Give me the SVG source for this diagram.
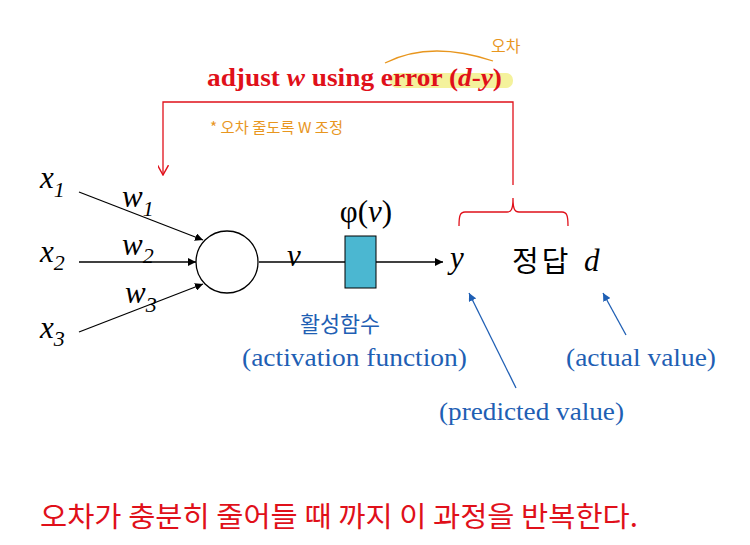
<svg xmlns="http://www.w3.org/2000/svg" width="750" height="545" viewBox="0 0 750 545">
<style>
.ser{font-family:"Liberation Serif","Times New Roman",serif}
.it{font-style:italic}
.blk{fill:#000}
.blue{fill:#1F5FB4}
.kr{font-family:"Noto Sans CJK KR","Noto Sans",sans-serif}
.hand{font-family:"Noto Sans CJK KR",sans-serif;fill:#E8961E}
.edge{stroke:#000;stroke-width:1.3;fill:none}
.red{stroke:#E0101A;stroke-width:1.3;fill:none}
.bl{stroke:#1F5FB4;stroke-width:1.3;fill:none}
</style>
<defs>
<marker id="ah" viewBox="0 0 10 10" refX="10" refY="5" markerWidth="8" markerHeight="8" markerUnits="userSpaceOnUse" orient="auto"><path d="M0,0 L10,5 L0,10 Z" fill="#000"/></marker>
<marker id="ahb" viewBox="0 0 10 10" refX="10" refY="5" markerWidth="8" markerHeight="8" markerUnits="userSpaceOnUse" orient="auto"><path d="M0,0 L10,5 L0,10 Z" fill="#1F5FB4"/></marker>
<marker id="ahr" viewBox="0 0 10 10" refX="9" refY="5" markerWidth="11" markerHeight="11" markerUnits="userSpaceOnUse" orient="auto"><path d="M0,0 L9,5 L0,10" fill="none" stroke="#E0101A" stroke-width="1.3"/></marker>
</defs>
<rect width="750" height="545" fill="#fff"/>

<g id="connectors">
<line class="edge" x1="79" y1="192" x2="203" y2="240" marker-end="url(#ah)"/>
<line class="edge" x1="79" y1="262" x2="196" y2="262" marker-end="url(#ah)"/>
<line class="edge" x1="79" y1="332" x2="203" y2="284" marker-end="url(#ah)"/>
<line class="edge" x1="259" y1="262" x2="345" y2="262"/>
<line class="edge" x1="376" y1="262" x2="443" y2="262" marker-end="url(#ah)"/>
<polyline class="red" points="513,185 513,102 163,102 163,175" marker-end="url(#ahr)"/>
<path class="red" d="M459,226 C459,216 460,212 465,212 L507,212 C511,212 513,210 513,198 C513,210 515,212 519,212 L562,212 C567,212 568,216 568,226"/>
<line class="bl" x1="516" y1="388" x2="469" y2="293" marker-end="url(#ahb)"/>
<line class="bl" x1="626" y1="335" x2="603" y2="293" marker-end="url(#ahb)"/>
</g>

<g id="title">
<rect x="390" y="73" width="123" height="15" rx="7" fill="#F4F29C"/>
<path d="M385,63 Q430,40 493,61" fill="none" stroke="#E8961E" stroke-width="1.3"/>
<text x="207" y="86" class="ser" font-weight="bold" font-size="26" fill="#E0101A" textLength="295" lengthAdjust="spacingAndGlyphs">adjust <tspan font-style="italic">w</tspan> using error (<tspan font-style="italic">d</tspan>-<tspan font-style="italic">y</tspan>)</text>
<text x="491" y="52" class="hand" font-size="16">오차</text>
<text x="210" y="133" class="hand" font-size="15" textLength="133" lengthAdjust="spacingAndGlyphs">* 오차 줄도록 W 조정</text>
</g>

<g id="x1"><text x="40" y="188" class="ser it blk" font-size="31">x<tspan font-size="22" dy="9">1</tspan></text></g>
<g id="x2"><text x="40" y="262" class="ser it blk" font-size="31">x<tspan font-size="22" dy="8">2</tspan></text></g>
<g id="x3"><text x="40" y="338" class="ser it blk" font-size="31">x<tspan font-size="22" dy="8">3</tspan></text></g>
<g id="w1"><text x="122" y="207" class="ser it blk" font-size="31">w<tspan font-size="22" dy="9">1</tspan></text></g>
<g id="w2"><text x="122" y="255" class="ser it blk" font-size="31">w<tspan font-size="22" dy="8">2</tspan></text></g>
<g id="w3"><text x="125" y="303" class="ser it blk" font-size="31">w<tspan font-size="22" dy="9">3</tspan></text></g>

<g id="neuron"><circle cx="227" cy="262" r="31" fill="#fff" stroke="#000" stroke-width="1.3"/></g>
<g id="vlabel"><text x="287" y="266" class="ser it blk" font-size="31">v</text></g>
<g id="activation">
<rect x="345" y="236" width="31" height="52" fill="#4BB7D1" stroke="#000" stroke-width="1"/>
<text x="366" y="222" class="ser blk" font-size="31" text-anchor="middle">φ(<tspan font-style="italic">v</tspan>)</text>
</g>
<g id="output"><text x="450" y="268" class="ser it blk" font-size="31">y</text></g>
<g id="answer">
<text x="512" y="272" class="kr blk" font-size="29" letter-spacing="3">정답</text>
<text x="584" y="271" class="ser it blk" font-size="31">d</text>
</g>

<g id="labels">
<text x="300" y="332" class="kr blue" font-size="22" textLength="80" lengthAdjust="spacingAndGlyphs">활성함수</text>
<text x="242" y="366" class="ser blue" font-size="25" textLength="225" lengthAdjust="spacingAndGlyphs">(activation function)</text>
<text x="566" y="366" class="ser blue" font-size="25" textLength="150" lengthAdjust="spacingAndGlyphs">(actual value)</text>
<text x="439" y="420" class="ser blue" font-size="25" textLength="185" lengthAdjust="spacingAndGlyphs">(predicted value)</text>
</g>

<g id="footer"><text x="40" y="527" class="kr" font-size="28" fill="#E0101A" textLength="598" lengthAdjust="spacingAndGlyphs">오차가 충분히 줄어들 때 까지 이 과정을 반복한다.</text></g>
</svg>
